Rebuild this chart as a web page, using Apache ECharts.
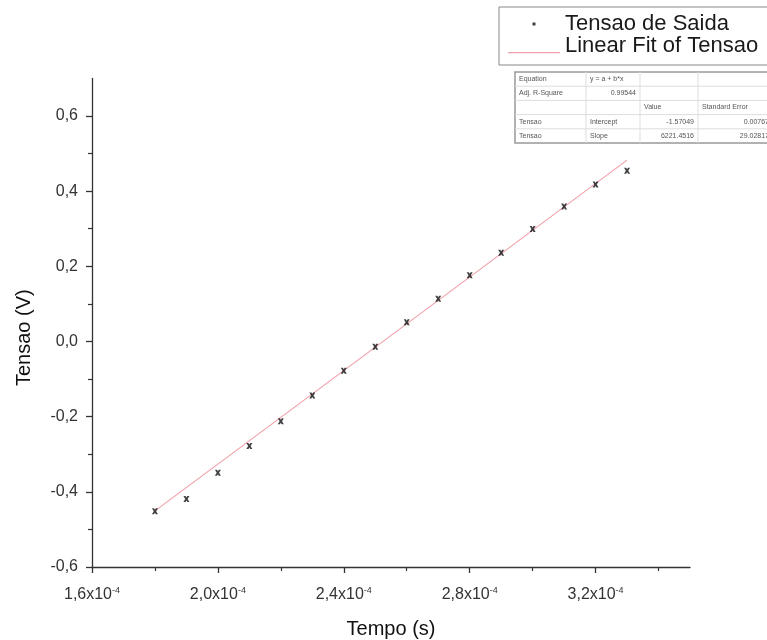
<!DOCTYPE html>
<html>
<head>
<meta charset="utf-8">
<script src="https://cdn.jsdelivr.net/npm/echarts@6/dist/echarts.min.js"></script>
<style>html,body{margin:0;padding:0;background:#fff;}#c{width:767px;height:640px;}</style>
</head>
<body>
<div id="c"></div>
<script>
// ---- data ----
const tempo = [1.8e-4, 1.9e-4, 2.0e-4, 2.1e-4, 2.2e-4, 2.3e-4, 2.4e-4, 2.5e-4,
               2.6e-4, 2.7e-4, 2.8e-4, 2.9e-4, 3.0e-4, 3.1e-4, 3.2e-4, 3.3e-4];
const tensao = [-0.452, -0.419, -0.349, -0.278, -0.212, -0.144, -0.078, -0.014,
                0.051, 0.114, 0.176, 0.236, 0.299, 0.359, 0.418, 0.454];
const fitIntercept = -1.57049;
const fitSlope = 6221.4516;
const xTicks = [1.6e-4, 2.0e-4, 2.4e-4, 2.8e-4, 3.2e-4];
const xMinorTicks = [1.8e-4, 2.2e-4, 2.6e-4, 3.0e-4, 3.4e-4];
const yTicks = [-0.6, -0.4, -0.2, 0.0, 0.2, 0.4, 0.6];
const yMinorTicks = [-0.5, -0.3, -0.1, 0.1, 0.3, 0.5];
const xRange = [1.6e-4, 3.5e-4];
const yRange = [-0.6, 0.7];
const seriesNames = ['Tensao de Saida', 'Linear Fit of Tensao'];
const tableRows = [
  ['Equation', 'y = a + b*x', '', ''],
  ['Adj. R-Square', '0.99544', '', ''],
  ['', '', 'Value', 'Standard Error'],
  ['Tensao', 'Intercept', '-1.57049', '0.00767'],
  ['Tensao', 'Slope', '6221.4516', '29.02817']
];

// ---- build ----
const FONT = 'Liberation Sans, Arial, sans-serif';
const xMinData = Math.min.apply(null, tempo);
const xMaxData = Math.max.apply(null, tempo);
const fitData = [[xMinData, fitIntercept + fitSlope * xMinData],
                 [xMaxData, fitIntercept + fitSlope * xMaxData]];
const scatterData = tempo.map((t, i) => [t, tensao[i]]);

const axisColor = '#333';
function xLabel(v) {
  const m = (v * 1e4).toFixed(1).replace('.', ',');
  return '{b|' + m + 'x10}{s|-4}';
}
function yLabel(v) {
  return v.toFixed(1).replace('.', ',');
}

// table graphic (fit report box)
const tbl = { left: 515, top: 72, rowH: 14.2, cols: [515, 586, 640, 698, 773] };
const g = [];
g.push({ type: 'rect', shape: { x: tbl.left, y: tbl.top, width: 300, height: tbl.rowH * 5 },
  style: { fill: '#fff', stroke: '#999', lineWidth: 1.5 }, z: 10 });
for (let r = 1; r < 5; r++) {
  g.push({ type: 'line', shape: { x1: tbl.left, y1: tbl.top + r * tbl.rowH, x2: 800, y2: tbl.top + r * tbl.rowH },
    style: { stroke: '#ddd', lineWidth: 1 }, z: 11 });
}
[1, 2, 3].forEach(c => {
  g.push({ type: 'line', shape: { x1: tbl.cols[c], y1: tbl.top, x2: tbl.cols[c], y2: tbl.top + 5 * tbl.rowH },
    style: { stroke: '#ddd', lineWidth: 1 }, z: 11 });
});
tableRows.forEach((row, r) => {
  const cy = tbl.top + (r + 0.5) * tbl.rowH;
  row.forEach((txt, c) => {
    if (!txt) return;
    const numeric = /^-?[0-9]/.test(txt);
    const x = numeric ? tbl.cols[c + 1] - 4 : tbl.cols[c] + 4;
    g.push({ type: 'text', x: x, y: cy, z: 12,
      style: { text: txt, fill: '#555', font: '7px ' + FONT,
        textAlign: numeric ? 'right' : 'left', textVerticalAlign: 'middle' } });
  });
});

const option = {
  backgroundColor: '#fff',
  animation: false,
  grid: { left: 92, right: 77, top: 78.4, bottom: 73, containLabel: false, outerBoundsMode: 'none' },
  legend: {
    orient: 'vertical', left: 499, top: 7,
    padding: [6, 12, 8, 9], itemGap: 0,
    itemWidth: 52, itemHeight: 22,
    borderColor: '#888', borderWidth: 1, backgroundColor: '#fff',
    textStyle: { fontFamily: FONT, fontSize: 22, color: '#1a1a1a' },
    itemStyle: { borderWidth: 0 },
    data: [
      { name: seriesNames[0], icon: 'path://M0,0M52,22M24.5,9.5h3v3h-3z' },
      { name: seriesNames[1], icon: 'path://M0,0M52,22M0,17h52v1.2h-52z' }
    ]
  },
  xAxis: [{
    type: 'value', min: xRange[0], max: xRange[1], position: 'bottom',
    axisLine: { onZero: false, lineStyle: { color: axisColor, width: 1.3 } },
    axisTick: { show: true, inside: false, length: 6, customValues: xTicks, lineStyle: { color: axisColor, width: 1.3 } },
    axisLabel: { customValues: xTicks, margin: 19, formatter: xLabel, color: '#333',
      rich: {
        b: { fontFamily: FONT, fontSize: 16, color: '#333', lineHeight: 18 },
        s: { fontFamily: FONT, fontSize: 9, color: '#333', verticalAlign: 'top', lineHeight: 9 }
      } },
    splitLine: { show: false },
    name: 'Tempo (s)', nameLocation: 'middle', nameGap: 52,
    nameTextStyle: { fontFamily: FONT, fontSize: 20, color: '#111' }
  }, {
    type: 'value', min: xRange[0], max: xRange[1], position: 'bottom',
    axisLine: { show: false, onZero: false },
    axisTick: { show: true, length: 4, customValues: xMinorTicks, lineStyle: { color: axisColor, width: 1.2 } },
    axisLabel: { show: false }, splitLine: { show: false }
  }],
  yAxis: [{
    type: 'value', min: yRange[0], max: yRange[1], position: 'left',
    axisLine: { show: true, onZero: false, lineStyle: { color: axisColor, width: 1.3 } },
    axisTick: { show: true, length: 6, customValues: yTicks, lineStyle: { color: axisColor, width: 1.3 } },
    axisLabel: { customValues: yTicks, margin: 14, formatter: yLabel,
      fontFamily: FONT, fontSize: 16, color: '#333' },
    splitLine: { show: false },
    name: 'Tensao (V)', nameLocation: 'middle', nameGap: 58,
    nameTextStyle: { fontFamily: FONT, fontSize: 20, color: '#111', padding: [0, 30, 0, 0] }
  }, {
    type: 'value', min: yRange[0], max: yRange[1], position: 'left',
    axisLine: { show: false, onZero: false },
    axisTick: { show: true, length: 4, customValues: yMinorTicks, lineStyle: { color: axisColor, width: 1.2 } },
    axisLabel: { show: false }, splitLine: { show: false }
  }],
  series: [{
    name: seriesNames[0], type: 'scatter', xAxisIndex: 0, yAxisIndex: 0,
    data: scatterData,
    symbol: 'path://M0,0L3.5,0L5,2.5L6.5,0L10,0L7,5L10,10L6.5,10L5,7.5L3.5,10L0,10L3,5Z',
    symbolSize: 6,
    itemStyle: { color: '#111' }, z: 3
  }, {
    name: seriesNames[1], type: 'line', xAxisIndex: 0, yAxisIndex: 0,
    data: fitData, symbol: 'none', showSymbol: false,
    color: '#f0a0aa',
    lineStyle: { color: '#f0a0aa', width: 1.2 },
    itemStyle: { color: '#f0a0aa' }, z: 2
  }],
  graphic: g
};

const chart = echarts.init(document.getElementById('c'), null, { renderer: 'canvas' });
chart.setOption(option);
</script>
</body>
</html>
